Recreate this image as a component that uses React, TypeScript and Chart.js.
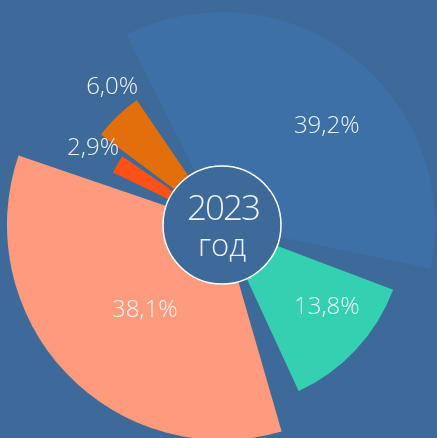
import React, { useEffect, useRef } from "react";
import { Chart, registerables } from "chart.js";

Chart.register(...registerables);

// ---- data ----
const categories = ["Сегмент 1", "Сегмент 2", "Сегмент 3", "Сегмент 4", "Сегмент 5"];
const shares = [39.2, 13.8, 38.1, 2.9, 6.0];
const shareLabels = ["39,2%", "13,8%", "38,1%", "2,9%", "6,0%"];
const relativeRadius = [1.0, 0.852, 1.01, 0.547, 0.695];
const centerTitle = "2023";
const centerSubtitle = "год";

// ---- styles ----
const BG = "#3d6a99";
const sliceColors = ["#3e70a8", "#35d0b2", "#ff9b7d", "#ff5016", "#e36f0c"];
const TEXT = "#eef3f8";
const SPACING = 20;
const ROTATION = -33;
// label placement (fraction of slice radius, angular nudge in degrees)
const labelRadiusFrac = [0.676, 0.727, 0.535, 1.24, 1.166];
const labelAngleNudge = [9.1, -5, -4.2, 0.6, 5.2];

const variableRadiusPlugin = {
  id: "variableRadius",
  beforeDatasetsDraw(chart: any) {
    const meta = chart.getDatasetMeta(0);
    const base = meta.controller.outerRadius;
    meta.data.forEach((el: any, i: number) => {
      el.outerRadius = base * relativeRadius[i];
      el.innerRadius = 0;
    });
  },
};

const overlayPlugin = {
  id: "overlay",
  afterDatasetsDraw(chart: any) {
    const ctx = chart.ctx as CanvasRenderingContext2D;
    const meta = chart.getDatasetMeta(0);
    const els = meta.data as any[];
    if (!els.length) return;
    const cx = els[0].x;
    const cy = els[0].y;
    ctx.save();
    // slice labels
    ctx.fillStyle = TEXT;
    ctx.textAlign = "center";
    ctx.textBaseline = "middle";
    ctx.font = "300 24px 'Open Sans'";
    els.forEach((el: any, i: number) => {
      const mid = (el.startAngle + el.endAngle) / 2 + (labelAngleNudge[i] * Math.PI) / 180;
      const r = (el.outerRadius + SPACING / 2) * labelRadiusFrac[i];
      ctx.fillText(shareLabels[i], cx + Math.cos(mid) * r, cy + Math.sin(mid) * r);
    });
    // center circle
    ctx.beginPath();
    ctx.arc(cx, cy, 59, 0, Math.PI * 2);
    ctx.fillStyle = BG;
    ctx.fill();
    ctx.lineWidth = 1.5;
    ctx.strokeStyle = "#ffffff";
    ctx.stroke();
    ctx.fillStyle = TEXT;
    ctx.textBaseline = "alphabetic";
    ctx.font = "300 35px 'Open Sans'";
    (ctx as any).letterSpacing = "-2px";
    ctx.fillText(centerTitle, cx + 1, cy - 5);
    ctx.font = "300 31px 'Open Sans'";
    (ctx as any).letterSpacing = "0px";
    ctx.fillText(centerSubtitle, cx, cy + 31);
    ctx.restore();
  },
};

export default function App() {
  const canvasRef = useRef<HTMLCanvasElement | null>(null);

  useEffect(() => {
    document.body.style.margin = "0";
    document.body.style.background = BG;
    const canvas = canvasRef.current;
    if (!canvas) return;
    const chart = new Chart(canvas, {
      type: "pie",
      data: {
        labels: categories,
        datasets: [
          {
            data: shares,
            backgroundColor: sliceColors,
            borderWidth: 0,
            spacing: SPACING,
            rotation: ROTATION,
          } as any,
        ],
      },
      options: {
        responsive: false,
        devicePixelRatio: 1,
        animation: false,
        layout: { padding: { left: 7, top: 12, right: 0, bottom: 0 } },
        plugins: {
          legend: { display: false },
          tooltip: { enabled: false },
        },
      } as any,
      plugins: [variableRadiusPlugin, overlayPlugin],
    });
    return () => chart.destroy();
  }, []);

  return (
    <div style={{ width: 437, height: 438, background: BG, overflow: "hidden" }}>
      <canvas ref={canvasRef} width={437} height={438} style={{ display: "block" }} />
    </div>
  );
}
